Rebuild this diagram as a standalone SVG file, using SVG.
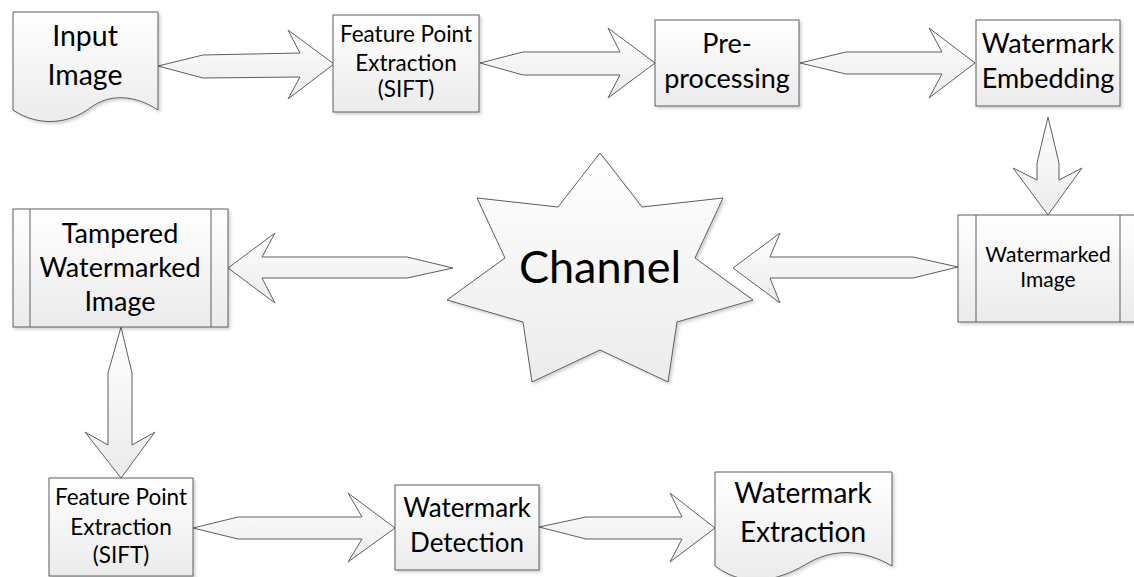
<svg xmlns="http://www.w3.org/2000/svg" width="1134" height="577" viewBox="0 0 1134 577">
<defs>
<linearGradient id="g" x1="0" y1="0" x2="0" y2="1">
<stop offset="0" stop-color="#ffffff"/>
<stop offset="1" stop-color="#ebebeb"/>
</linearGradient>
<filter id="sh" x="-10%" y="-10%" width="130%" height="130%">
<feDropShadow dx="2" dy="2" stdDeviation="1.5" flood-color="#000" flood-opacity="0.18"/>
</filter>
<style>
.s{fill:url(#g);stroke:#5e5e5e;stroke-width:1;filter:url(#sh)}
.l{fill:none;stroke:#5e5e5e;stroke-width:1}
.a{fill:url(#g);stroke:#5e5e5e;stroke-width:1;stroke-linejoin:miter}
text{font-family:Lato,"Liberation Sans",sans-serif;fill:#000;text-anchor:middle}
</style>
</defs>
<rect width="1134" height="577" fill="#fff"/>
<g id="connectors">
<polygon class="a" points="158,66 203,55 300,53 288,30 334,64 288,99 300,77 203,78"/>
<polygon class="a" points="480,63 523,52 620,52 608,28 655,63 608,98 620,75 523,75"/>
<polygon class="a" points="800,63 846,52 942,52 929,28 975,63 929,98 942,74 846,74"/>
<polygon class="a" points="1048,117 1037,163 1037,180 1013,168 1048,215 1082,168 1059,180 1059,163"/>
<polygon class="a" points="958,267 913,257 770,257 780,233 733,268 780,303 770,278 913,278"/>
<polygon class="a" points="453,268 407,257 262,257 275,233 228,268 275,303 262,278 407,278"/>
<polygon class="a" points="121,327 108,373 108,445 85,432 121,478 155,432 132,445 132,373"/>
<polygon class="a" points="193,528 238,517 362,517 348,493 395,528 348,562 362,539 238,539"/>
<polygon class="a" points="539,527 586,517 682,517 670,493 715,528 670,562 682,539 586,539"/>
</g>
<g id="input-image">
<path class="s" d="M13,12 H158 V110 C135,95 110,93 90,108 C70,123 40,128 13,110 Z"/>
<text x="85" y="46" font-size="28.5">Input</text>
<text x="85" y="85" font-size="28.5">Image</text>
</g>
<g id="feature-point-1">
<rect class="s" x="333" y="15" width="146" height="97"/>
<text x="406" y="42" font-size="22.5">Feature Point</text>
<text x="406" y="71" font-size="22.5">Extraction</text>
<text x="406" y="97" font-size="22.5">(SIFT)</text>
</g>
<g id="preprocessing">
<rect class="s" x="655" y="20" width="144" height="86"/>
<text x="727" y="53" font-size="27">Pre-</text>
<text x="727" y="88" font-size="27">processing</text>
</g>
<g id="watermark-embedding">
<rect class="s" x="976" y="20" width="144" height="86"/>
<text x="1048" y="53" font-size="27">Watermark</text>
<text x="1048" y="88" font-size="27">Embedding</text>
</g>
<g id="watermarked-image">
<rect class="s" x="958" y="215" width="180" height="107"/>
<line class="l" x1="976" y1="215" x2="976" y2="322"/>
<line class="l" x1="1120" y1="215" x2="1120" y2="322"/>
<text x="1048" y="262" font-size="21">Watermarked</text>
<text x="1048" y="287" font-size="21">Image</text>
</g>
<g id="channel">
<polygon class="s" points="600,153 642,207 723,198 695,258 753,300 677,322 668,382 600,350 532,382 523,322 447,300 505,258 477,198 558,207"/>
<text x="600" y="283" font-size="45">Channel</text>
</g>
<g id="tampered">
<rect class="s" x="13" y="209" width="215" height="118"/>
<line class="l" x1="30" y1="209" x2="30" y2="327"/>
<line class="l" x1="211" y1="209" x2="211" y2="327"/>
<text x="120" y="243" font-size="27">Tampered</text>
<text x="120" y="277" font-size="27">Watermarked</text>
<text x="120" y="311" font-size="27">Image</text>
</g>
<g id="feature-point-2">
<rect class="s" x="49" y="478" width="144" height="98"/>
<text x="121" y="505" font-size="22.5">Feature Point</text>
<text x="121" y="535" font-size="22.5">Extraction</text>
<text x="121" y="563" font-size="22.5">(SIFT)</text>
</g>
<g id="watermark-detection">
<rect class="s" x="395" y="485" width="144" height="85"/>
<text x="467" y="517" font-size="26">Watermark</text>
<text x="467" y="552" font-size="26">Detection</text>
</g>
<g id="watermark-extraction">
<path class="s" d="M715,472 H892 V566 C865,550 835,548 810,562 C785,577 750,592 715,566 Z"/>
<text x="803" y="503" font-size="28">Watermark</text>
<text x="803" y="542" font-size="28">Extraction</text>
</g>
</svg>
